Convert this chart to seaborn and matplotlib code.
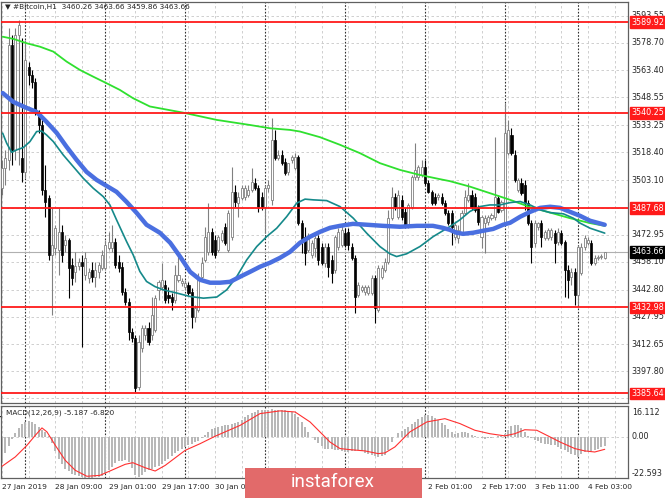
import numpy as np
import matplotlib
matplotlib.use("Agg")
import matplotlib.pyplot as plt
import seaborn as sns
from matplotlib.patches import Rectangle

sns.set_style("white")
plt.rcParams["font.family"] = ["DejaVu Sans"]

# hourly candles, 27 Jan 17:00 -> 4 Feb 09:00
opens = [3498.8, 3509.8, 3514.2, 3577.5, 3519.7, 3583.0, 3515.3, 3507.6, 3565.4, 3560.9,
         3557.1, 3540.6, 3533.4, 3497.7, 3493.3, 3461.9, 3465.8, 3464.7, 3474.6, 3467.5,
         3470.2, 3456.4, 3452.6, 3455.9, 3458.1, 3450.9, 3449.3, 3453.7, 3449.9, 3452.6,
         3454.8, 3454.8, 3465.8, 3465.8, 3469.1, 3458.1, 3455.4, 3441.6, 3436.1, 3419.6,
         3416.3, 3389.4, 3410.8, 3417.9, 3421.8, 3417.9, 3420.7, 3442.7, 3444.4, 3445.5,
         3439.9, 3438.9, 3437.2, 3448.2, 3446.6, 3444.4, 3445.5, 3441.6, 3427.9, 3431.7,
         3449.9, 3459.2, 3463.6, 3474.6, 3470.2, 3464.7, 3470.2, 3477.4, 3464.7, 3471.9,
         3496.6, 3490.6, 3493.3, 3493.9, 3494.9, 3497.7, 3501.6, 3498.8, 3493.9, 3488.4,
         3498.8, 3492.2, 3525.2, 3515.3, 3516.9, 3513.1, 3507.6, 3514.2, 3509.8, 3515.9,
         3479.6, 3471.9, 3464.7, 3461.9, 3465.8, 3471.3, 3466.4, 3457.6, 3466.4, 3459.2,
         3453.7, 3466.4, 3467.5, 3474.1, 3474.6, 3466.4, 3460.3, 3439.9, 3442.7, 3441.6,
         3441.1, 3441.1, 3449.3, 3431.7, 3449.9, 3453.7, 3458.1, 3482.3, 3493.9, 3482.9,
         3492.2, 3485.6, 3478.5, 3488.4, 3504.9, 3504.9, 3505.9, 3510.4, 3501.6, 3496.6,
         3493.9, 3493.9, 3493.9, 3490.6, 3485.1, 3485.1, 3471.9, 3471.3, 3474.1, 3485.1,
         3492.2, 3494.9, 3493.9, 3487.8, 3471.9, 3479.6, 3480.1, 3482.3, 3482.9, 3493.3,
         3486.7, 3479.6, 3518.1, 3527.9, 3516.9, 3497.7, 3501.6, 3500.5, 3490.6, 3479.6,
         3468.6, 3477.4, 3479.6, 3471.3, 3471.3, 3471.9, 3474.1, 3469.1, 3474.1, 3469.1,
         3453.7, 3449.9, 3452.6, 3439.9, 3452.1, 3466.4, 3468.6, 3468.6, 3457.6, 3460.3,
         3460.9, 3460.26]
highs = [3514.2, 3519.7, 3586.8, 3583.0, 3586.8, 3591.2, 3581.3, 3580.2, 3568.1, 3563.7,
         3559.3, 3541.7, 3536.2, 3511.5, 3494.9, 3487.8, 3478.5, 3487.8, 3478.5, 3472.9,
         3471.3, 3460.3, 3463.6, 3460.3, 3461.9, 3463.6, 3454.8, 3458.1, 3458.1, 3458.1,
         3464.7, 3470.2, 3474.6, 3478.5, 3471.3, 3461.9, 3458.1, 3443.8, 3438.3, 3421.8,
         3417.9, 3417.9, 3423.5, 3423.5, 3425.1, 3438.9, 3439.9, 3448.2, 3457.6, 3448.2,
         3444.4, 3441.1, 3456.4, 3463.1, 3449.3, 3448.2, 3447.1, 3443.8, 3434.4, 3452.1,
         3460.9, 3477.4, 3490.6, 3476.8, 3472.9, 3472.9, 3475.7, 3479.6, 3486.7, 3510.4,
         3500.5, 3496.6, 3500.5, 3500.5, 3500.5, 3509.8, 3504.3, 3500.5, 3496.6, 3500.5,
         3503.2, 3537.3, 3530.7, 3519.7, 3519.7, 3515.3, 3511.5, 3516.9, 3518.1, 3516.9,
         3481.2, 3477.4, 3474.1, 3470.2, 3474.1, 3472.9, 3468.6, 3468.6, 3468.6, 3461.9,
         3472.9, 3476.8, 3477.9, 3476.8, 3476.8, 3468.6, 3461.9, 3447.1, 3445.5, 3445.5,
         3445.5, 3450.9, 3450.9, 3456.4, 3456.4, 3460.3, 3486.7, 3499.4, 3496.1, 3497.7,
         3494.9, 3487.8, 3490.6, 3505.9, 3523.6, 3511.5, 3514.2, 3514.2, 3503.2, 3497.7,
         3496.1, 3496.1, 3496.1, 3492.2, 3486.7, 3486.7, 3479.6, 3478.5, 3486.7, 3497.7,
         3501.6, 3497.7, 3496.1, 3489.4, 3483.9, 3483.9, 3483.9, 3485.1, 3526.9, 3494.9,
         3492.2, 3545.5, 3536.2, 3531.8, 3519.7, 3504.3, 3504.3, 3503.2, 3492.2, 3481.2,
         3481.2, 3480.1, 3481.2, 3475.7, 3476.8, 3476.8, 3475.7, 3476.8, 3475.7, 3470.2,
         3456.4, 3454.8, 3454.8, 3467.5, 3468.6, 3472.9, 3471.9, 3470.2, 3461.9, 3461.9,
         3462.5, 3463.66]
lows = [3494.9, 3500.5, 3508.7, 3511.5, 3514.2, 3511.5, 3502.1, 3504.3, 3555.5, 3553.8,
        3538.9, 3529.1, 3494.9, 3482.9, 3459.2, 3428.9, 3461.9, 3450.9, 3458.1, 3463.6,
        3438.3, 3445.5, 3447.1, 3453.7, 3411.4, 3448.2, 3446.6, 3447.1, 3444.4, 3449.3,
        3453.7, 3453.7, 3464.7, 3463.6, 3454.8, 3452.6, 3439.9, 3434.4, 3415.2, 3414.1,
        3386.6, 3387.7, 3408.6, 3415.2, 3412.5, 3415.2, 3419.6, 3437.2, 3442.7, 3435.6,
        3435.6, 3431.7, 3435.6, 3447.1, 3444.9, 3442.7, 3439.9, 3421.8, 3425.1, 3430.6,
        3448.2, 3458.1, 3461.9, 3461.9, 3460.3, 3463.6, 3469.1, 3467.5, 3463.6, 3470.2,
        3488.4, 3482.9, 3492.2, 3492.2, 3493.9, 3496.6, 3497.7, 3485.6, 3486.7, 3474.1,
        3496.6, 3489.4, 3514.2, 3514.2, 3511.5, 3505.9, 3505.9, 3512.6, 3508.7, 3478.5,
        3463.1, 3456.4, 3463.6, 3460.3, 3460.9, 3456.4, 3456.4, 3455.4, 3449.9, 3446.6,
        3452.1, 3464.7, 3466.4, 3466.4, 3464.7, 3459.2, 3430.1, 3438.9, 3441.6, 3439.9,
        3439.9, 3439.9, 3424.6, 3430.6, 3448.8, 3452.6, 3457.0, 3481.2, 3486.7, 3481.8,
        3481.2, 3476.8, 3476.8, 3487.3, 3503.2, 3503.2, 3504.9, 3500.5, 3496.1, 3489.4,
        3489.4, 3492.2, 3489.4, 3483.9, 3478.5, 3467.5, 3470.2, 3468.6, 3472.9, 3483.9,
        3491.1, 3486.7, 3485.6, 3478.5, 3465.8, 3463.1, 3478.5, 3481.2, 3481.2, 3485.1,
        3485.6, 3478.5, 3516.9, 3516.9, 3502.1, 3496.6, 3494.9, 3486.7, 3478.5, 3457.6,
        3466.4, 3475.7, 3466.4, 3470.2, 3470.2, 3470.2, 3457.6, 3467.5, 3467.5, 3438.9,
        3438.3, 3445.5, 3434.4, 3434.4, 3450.9, 3464.7, 3467.5, 3456.4, 3456.4, 3459.2,
        3459.8, 3459.86]
closes = [3509.8, 3515.3, 3577.5, 3519.7, 3583.0, 3588.5, 3507.6, 3569.2, 3560.9, 3557.1,
          3540.6, 3533.4, 3497.7, 3491.1, 3461.9, 3467.5, 3476.8, 3474.6, 3461.9, 3470.2,
          3454.8, 3449.3, 3455.9, 3458.1, 3455.9, 3460.3, 3452.6, 3449.9, 3453.7, 3456.4,
          3461.9, 3467.5, 3469.1, 3469.1, 3456.4, 3454.8, 3441.6, 3436.1, 3419.6, 3416.3,
          3388.8, 3414.1, 3421.8, 3421.8, 3414.1, 3428.9, 3438.3, 3447.1, 3448.2, 3437.2,
          3438.3, 3436.1, 3450.9, 3450.9, 3447.7, 3446.6, 3441.1, 3427.9, 3432.8, 3449.9,
          3457.6, 3471.9, 3474.6, 3463.6, 3461.9, 3471.9, 3474.1, 3468.6, 3485.1, 3496.6,
          3491.1, 3493.9, 3498.8, 3498.8, 3497.7, 3502.1, 3498.8, 3488.4, 3488.4, 3498.8,
          3500.5, 3525.2, 3515.3, 3516.9, 3512.6, 3507.1, 3512.6, 3515.9, 3515.9, 3479.6,
          3470.2, 3463.1, 3471.9, 3468.6, 3471.3, 3459.2, 3457.6, 3466.4, 3455.4, 3452.1,
          3471.9, 3474.6, 3475.7, 3467.5, 3467.5, 3460.3, 3438.9, 3445.5, 3444.4, 3444.4,
          3444.4, 3449.3, 3432.8, 3454.8, 3454.8, 3458.1, 3482.3, 3493.9, 3488.4, 3494.9,
          3482.9, 3478.5, 3489.4, 3504.9, 3508.7, 3510.4, 3510.4, 3501.6, 3496.6, 3490.6,
          3490.6, 3494.9, 3490.6, 3485.1, 3479.6, 3477.4, 3478.5, 3475.7, 3485.1, 3493.9,
          3494.9, 3488.4, 3486.7, 3480.1, 3482.9, 3482.3, 3482.9, 3483.9, 3493.9, 3485.6,
          3491.1, 3529.1, 3530.7, 3518.1, 3503.2, 3503.2, 3496.1, 3490.6, 3479.6, 3466.4,
          3479.6, 3479.6, 3471.9, 3474.6, 3475.7, 3475.7, 3468.6, 3474.6, 3468.6, 3453.7,
          3448.2, 3452.6, 3439.9, 3466.4, 3466.4, 3471.3, 3470.2, 3457.6, 3460.3, 3460.9,
          3461.4, 3463.66]

# moving averages, read at points along each line (bar index, price)
ma_slow_bar = [0.2, 3.4, 7.4, 11.4, 15.4, 19.4, 23.4, 27.4, 31.4, 35.4, 39.4, 42.4, 44.4,
               54.4, 64.5, 74.5, 80.5, 86.5, 89.5, 95.5, 101.5, 107.5, 113.5, 119.5, 125.5,
               131.5, 134.5, 140.5, 146.5, 152.6, 158.6, 164.6, 170.6, 176.6, 181]
ma_slow = [3582.0, 3580.8, 3578.4, 3576.5, 3573.8, 3568.3, 3563.7, 3560.0, 3556.4, 3552.7,
           3548.1, 3545.4, 3543.6, 3540.2, 3536.2, 3533.4, 3531.6, 3530.7, 3529.8, 3526.7,
           3522.5, 3517.9, 3512.4, 3508.7, 3505.9, 3503.6, 3502.5, 3499.5, 3495.9, 3492.2,
           3488.2, 3485.2, 3482.1, 3479.4, 3477.9]
ma_mid_bar = [0.2, 3.4, 7.4, 10.4, 13.4, 16.4, 19.4, 22.4, 25.4, 28.4, 31.4, 34.4, 37.4,
              40.4, 43.4, 47.4, 50.5, 53.5, 56.5, 59.5, 62.5, 65.5, 68.5, 71.5, 74.5, 77.5,
              80.5, 83.5, 86.5, 89.5, 92.5, 95.5, 98.5, 101.5, 105.4, 109.6, 114.4, 119.5,
              124.6, 129.4, 132.4, 134.5, 136.5, 138.5, 141.5, 144.5, 147.5, 150.5, 152.6,
              155.6, 158.6, 161.6, 164.6, 167.6, 170.6, 173.6, 176.6, 181]
ma_mid = [3551.0, 3546.1, 3542.8, 3540.6, 3535.1, 3529.1, 3521.4, 3514.2, 3507.6, 3503.2,
          3499.9, 3496.6, 3491.1, 3485.1, 3478.5, 3474.1, 3468.6, 3460.9, 3452.6, 3448.2,
          3446.6, 3446.6, 3447.1, 3449.9, 3452.6, 3455.4, 3457.6, 3460.3, 3463.6, 3468.6,
          3471.9, 3474.6, 3476.8, 3477.9, 3479.0, 3478.5, 3477.9, 3477.4, 3477.9, 3477.9,
          3476.8, 3475.7, 3474.1, 3473.5, 3474.1, 3475.2, 3476.2, 3478.5, 3479.6, 3482.9,
          3485.6, 3487.8, 3488.4, 3487.8, 3485.6, 3483.4, 3480.7, 3478.5]
ma_fast_bar = [0.2, 1.4, 2.9, 4.4, 6.4, 8.4, 10.4, 11.9, 13.4, 15.4, 18.4, 21.4, 24.4, 27.4,
               30.4, 32.4, 34.4, 37.4, 39.4, 41.4, 43.4, 45.9, 48.4, 52.5, 56.5, 60.5, 64.5,
               67.5, 70.5, 73.5, 76.5, 79.5, 82.5, 85.5, 88.5, 91, 93.5, 97.5, 101.5, 105.5,
               109.5, 113.5, 116.5, 118.5, 121.5, 125.5, 129.5, 134.5, 137.5, 140.5, 143.5,
               146.5, 149.5, 152.6, 155.6, 158.6, 161.6, 164.6, 168.6, 171.6, 173.6, 176.6,
               181]
ma_fast = [3528.9, 3523.4, 3518.4, 3519.7, 3521.0, 3524.3, 3529.8, 3530.1, 3527.9, 3524.3,
           3516.9, 3510.5, 3504.1, 3498.6, 3494.0, 3489.4, 3481.2, 3469.3, 3461.9, 3452.8,
           3447.3, 3444.5, 3442.7, 3440.9, 3439.0, 3438.1, 3438.7, 3442.7, 3450.0, 3459.2,
           3466.5, 3472.0, 3476.6, 3483.0, 3490.4, 3492.6, 3492.2, 3491.8, 3488.5, 3482.1,
           3473.9, 3466.5, 3462.5, 3461.0, 3462.5, 3466.5, 3472.0, 3477.5, 3481.2, 3485.8,
           3488.5, 3489.4, 3489.4, 3490.7, 3491.3, 3489.4, 3486.7, 3485.2, 3484.5, 3482.1,
           3479.4, 3476.6, 3473.9]

# MACD(12,26,9): histogram per bar, signal line read at points
macd_hist = [-14.5, -9, -5, -1, 2, 5, 7, 8.4, 8.6, 8.3, 7, 5.5, 4, 2.8, 0.5, -3.5, -7.5, -12,
             -15, -17.5, -19, -20.5, -21, -21.8, -22.3, -22.5, -22.6, -22.5, -22.3, -22,
             -21.3, -20, -18, -16.6, -14.5, -13.5, -13, -12.9, -14, -17, -21, -22, -21,
             -19.5, -18.5, -17.5, -16.8, -15.8, -15, -13.5, -12.3, -10.5, -9, -7.6, -6.5,
             -5.5, -4.7, -4, -3, -2, -0.5, 1.2, 2.5, 4.2, 5, 5.6, 6.1, 6.4, 6.8, 7.2, 7.7,
             8.2, 9.5, 10.8, 12, 13, 14, 14.7, 14.9, 15.1, 15.1, 15.2, 15, 14.7, 14.8, 14.7,
             14.6, 14, 12.8, 11.2, 8.5, 5.5, 2.5, 0.2, -1.8, -3.5, -5, -6.4, -6.5, -6.8, -7,
             -7.4, -7.8, -8.1, -8.3, -8, -7.6, -7.4, -8, -8.6, -9.2, -9.8, -10.5, -11, -10.6,
             -10, -7, -3, 0, 2, 3.2, 4.2, 5.5, 7, 8.5, 10, 11.2, 12, 12, 11.5, 10.5, 9.3, 7.8,
             6.4, 4.2, 2.8, 1.8, 2, 2.5, 2.8, 2, 1.2, 0.5, 0, -0.5, -0.9, -0.6, -0.3, 0, 0.3,
             0.6, 1.5, 4, 6, 6.8, 6.5, 4.8, 2.8, 0.8, -0.8, -1.8, -2.5, -3.1, -3.7, -4, -4.3,
             -4.6, -5.5, -6.5, -7.4, -8.3, -9.2, -10.1, -11, -9.5, -8.3, -8, -7.7, -7.4, -6.5,
             -5.8, -5.187]
signal_bar = [0, 4, 7.5, 10, 12, 13.5, 16, 19, 22, 25.5, 29.4, 32.4, 37, 39.3, 43, 46, 49,
              55, 59.5, 64, 71.5, 77.5, 83.5, 88, 92.5, 97, 98.5, 101.5, 104.5, 109, 113,
              115, 118, 122.5, 127.6, 133, 137.5, 142, 146.5, 151, 154, 157, 160.6, 164.6,
              167.6, 172, 175, 178, 181]
signal = [-16.2, -11, -4.6, 0.9, 5, 2.8, -4.6, -12.9, -18.4, -21.7, -21.2, -18.8, -15.1,
          -14.2, -17, -18.8, -15.7, -7.4, -3.7, 0.4, 6.4, 12.9, 14.4, 13.8, 8.3, 0, -2.8,
          -6.4, -7, -7.7, -9.2, -8.8, -5.5, 2.8, 8.3, 10.1, 7.4, 3.7, 1.8, 0.6, 1.8, 4, 3.7,
          0, -2.8, -6.4, -7.7, -8.3, -6.82]

levels = [3589.92, 3540.25, 3487.68, 3432.98, 3385.64]
last_price = 3463.66
price_ticks = [3593.55, 3578.70, 3563.40, 3548.55, 3533.25, 3518.40, 3503.10, 3487.95,
               3472.95, 3458.10, 3442.80, 3427.95, 3412.65, 3397.80, 3382.95]
time_labels = ["27 Jan 2019", "28 Jan 09:00", "29 Jan 01:00", "29 Jan 17:00", "30 Jan 09:00",
               "31 Jan 01:00", "31 Jan 17:00", "1 Feb 09:00", "2 Feb 01:00", "2 Feb 17:00",
               "3 Feb 11:00", "4 Feb 03:00"]
label_bars = [0, 16, 32, 48, 64, 80, 96, 112, 128, 144, 160, 176]
day_bars = [7, 31, 55, 79, 103, 127, 151, 173]

o = np.array(opens); h = np.array(highs); l = np.array(lows); c = np.array(closes)
bars = np.arange(len(c))
up = c >= o

fig = plt.figure(figsize=(6.65, 4.99), dpi=100)
ax = fig.add_axes([0.0015, 0.1924, 0.9429, 0.8036])
ax2 = fig.add_axes([0.0015, 0.0421, 0.9429, 0.1443], sharex=ax)

xlim = (-0.3, 188.0)
grid_kw = dict(color="#c8c8c8", lw=0.6, ls=(0, (3, 3)), zorder=0)
sep_kw = dict(color="#303030", lw=0.8, ls=(0, (1.5, 1.5)), zorder=0.5)
for a in (ax, ax2):
    for b in range(0, 188, 8):
        a.axvline(b, **grid_kw)
    for b in day_bars:
        a.axvline(b, **sep_kw)

for p in price_ticks:
    ax.axhline(p, **grid_kw)
ax.axhline(last_price, color="#b0b0b0", lw=0.8, zorder=0.6)

# candles
ax.vlines(bars[up], l[up], h[up], color="#808080", lw=0.8, zorder=2)
ax.vlines(bars[~up], l[~up], h[~up], color="black", lw=0.8, zorder=2)
body = np.maximum(np.abs(c - o), 0.35)
ax.bar(bars[up], body[up], bottom=np.minimum(o, c)[up], width=0.62,
       color="white", edgecolor="#808080", linewidth=0.6, zorder=3)
ax.bar(bars[~up], body[~up], bottom=np.minimum(o, c)[~up], width=0.62,
       color="black", edgecolor="black", linewidth=0.5, zorder=3)

sns.lineplot(x=ma_slow_bar, y=ma_slow, ax=ax, color="#2fe02f", lw=1.3, zorder=4)
sns.lineplot(x=ma_fast_bar, y=ma_fast, ax=ax, color="#15898a", lw=1.2, zorder=4)
sns.lineplot(x=ma_mid_bar, y=ma_mid, ax=ax, color="#4a6fe0", lw=3.2, zorder=4,
             solid_capstyle="round", solid_joinstyle="round")

for lv in levels:
    ax.axhline(lv, color="#ff1a1a", lw=1.3, zorder=5)

ax.set_xlim(*xlim)
ax.set_ylim(3380.4, 3601.1)
ax.set_xticks([]); ax.set_yticks([])
ax.set_xlabel(""); ax.set_ylabel("")

fs = 5.8
ytr = ax.get_yaxis_transform()
for p in price_ticks:
    if any(abs(p - lv) < 3 for lv in levels) or abs(p - last_price) < 3:
        continue
    ax.text(1.006, p, f"{p:.2f}", transform=ytr, fontsize=fs, va="center", ha="left",
            clip_on=False)
for lv in levels:
    ax.text(1.006, lv, f"{lv:.2f}", transform=ytr, fontsize=fs, va="center", ha="left",
            color="white", clip_on=False, zorder=6,
            bbox=dict(boxstyle="square,pad=0.18", fc="#ff1a1a", ec="#ff1a1a"))
ax.text(1.006, last_price, f"{last_price:.2f}", transform=ytr, fontsize=fs, va="center",
        ha="left", color="white", clip_on=False, zorder=6,
        bbox=dict(boxstyle="square,pad=0.18", fc="black", ec="black"))

ax.text(0.007, 0.994, "\u25bc #Bitcoin,H1  3460.26 3463.66 3459.86 3463.66",
        transform=ax.transAxes, fontsize=5.3, va="top", ha="left")

# MACD panel
ax2.bar(bars, macd_hist, width=0.6, color="#b8b8b8", linewidth=0, zorder=2)
sns.lineplot(x=signal_bar, y=signal, ax=ax2, color="#ff3030", lw=0.8, zorder=3)
ax2.axhline(0, **grid_kw)
ax2.set_ylim(-22.65, 17.1)
ax2.set_yticks([])
ax2.set_ylabel("")
ax2.set_xlim(*xlim)
ax2.set_xticks(label_bars)
ax2.set_xticklabels(time_labels, fontsize=5.4, ha="left")
ax2.tick_params(axis="x", length=3, width=0.8, pad=1.5, color="#404040")
ytr2 = ax2.get_yaxis_transform()
ax2.text(1.006, 16.112, "16.112", transform=ytr2, fontsize=fs, va="top", ha="left")
ax2.text(1.006, 0, "0.00", transform=ytr2, fontsize=fs, va="center", ha="left")
ax2.text(1.006, -22.593, "-22.593", transform=ytr2, fontsize=fs, va="bottom", ha="left")
ax2.text(0.008, 0.95, "MACD(12,26,9) -5.187 -6.820", transform=ax2.transAxes,
         fontsize=5.3, va="top", ha="left", zorder=5)

for a in (ax, ax2):
    for s in a.spines.values():
        s.set_color("#606060")
        s.set_linewidth(0.9)
        s.set_visible(True)

# watermark
fig.patches.append(Rectangle((245 / 665, 1.5 / 499), 177 / 665, 30 / 499,
                             transform=fig.transFigure, fc="#e26a6a", ec="none",
                             zorder=10))
fig.text(333 / 665, 1 - 482 / 499, "instaforex", fontsize=13.5, color="white",
         family=["Roboto", "DejaVu Sans"], ha="center", va="center", zorder=11)

fig.savefig("out.png", dpi=100)
